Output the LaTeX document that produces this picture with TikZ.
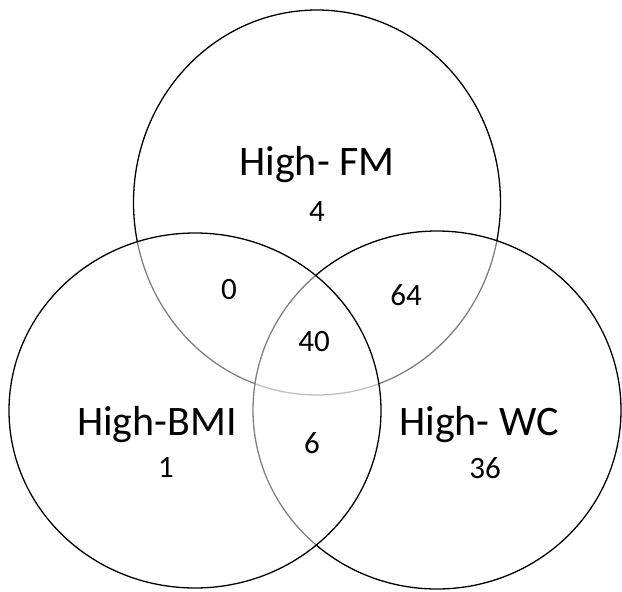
\documentclass[tikz,border=0pt]{standalone}
\usepackage{fontspec}
\setmainfont{Carlito}
\begin{document}
\begin{tikzpicture}[x=1pt,y=-1pt,
  setring/.style={draw=black, line width=1.3pt, fill=white, fill opacity=0.5},
  setname/.style={font=\fontsize{42}{44}\selectfont, inner sep=0pt},
  count/.style={font=\fontsize{31}{33}\selectfont, inner sep=0pt}]
  \useasboundingbox (0,0) rectangle (622,592);
  % the three sets, lower layers show through the ones above
  \draw[setring] (317,202.5) ellipse [x radius=183.5, y radius=192.5];
  \draw[setring] (437,410) ellipse [x radius=184, y radius=179];
  \draw[setring] (195,410.5) ellipse [x radius=186, y radius=177.5];
  % set names and counts
  \node[setname] (fm)  at (317,165) {High- FM};
  \node[count]   (nfm) at (317,212) {4};
  \node[setname] (bmi) at (157,425) {High-BMI};
  \node[count]   (nbmi) at (166,468) {1};
  \node[setname] (wc)  at (479,425) {High- WC};
  \node[count]   (nwc) at (485,468) {36};
  \node[count] (fmbmi)  at (229,290) {0};
  \node[count] (fmwc)   at (406,295) {64};
  \node[count] (all)    at (314,342) {40};
  \node[count] (bmiwc)  at (312,443) {6};
\end{tikzpicture}
\end{document}
